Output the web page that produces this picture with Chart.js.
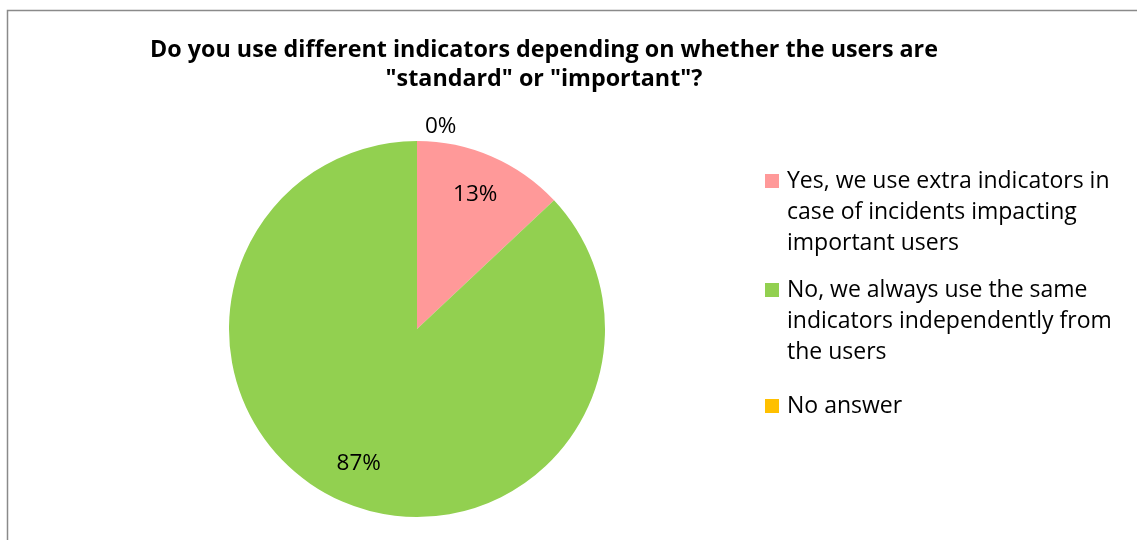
<!DOCTYPE html>
<html>
<head>
<meta charset="utf-8">
<script src="https://cdn.jsdelivr.net/npm/chart.js@4/dist/chart.umd.min.js"></script>
<style>
  html, body { margin: 0; padding: 0; background: #ffffff; }
  #wrap { width: 1137px; height: 540px; position: relative; }
</style>
</head>
<body>
<div id="wrap"><canvas id="pie"></canvas></div>
<script>
// Survey answers (share of respondents, %)
const titleLines = [
  'Do you use different indicators depending on whether the users are',
  '"standard" or "important"?'
];
const answerLabels = [
  ['Yes, we use extra indicators in', 'case of incidents impacting', 'important users'],
  ['No, we always use the same', 'indicators independently from', 'the users'],
  ['No answer']
];
const answerShares = [13, 87, 0];
const answerColors = ['#FF9999', '#92D050', '#FFC000'];

const FONT = '"Open Sans", Lato, sans-serif';

// Frame, title, value labels and legend drawn on the canvas
const decorations = {
  id: 'decorations',
  afterDraw(chart) {
    const ctx = chart.ctx;
    ctx.save();

    // chart frame (top and left edges)
    ctx.strokeStyle = '#8a8a8a';
    ctx.lineWidth = 1.5;
    ctx.beginPath();
    ctx.moveTo(7.5, 540);
    ctx.lineTo(7.5, 10.5);
    ctx.lineTo(1137, 10.5);
    ctx.stroke();

    // title
    ctx.fillStyle = '#000000';
    ctx.textAlign = 'center';
    ctx.textBaseline = 'alphabetic';
    ctx.font = 'bold 23.3px ' + FONT;
    titleLines.forEach((line, i) => ctx.fillText(line, 544, 57 + i * 29));

    // value labels
    const meta = chart.getDatasetMeta(0);
    ctx.font = '22.5px ' + FONT;
    ctx.textBaseline = 'middle';
    meta.data.forEach((arc, i) => {
      const v = answerShares[i];
      const mid = (arc.startAngle + arc.endAngle) / 2;
      const text = v + '%';
      if (v === 0) {
        const r = arc.outerRadius + 14;
        ctx.textAlign = 'left';
        ctx.fillText(text, arc.x + Math.cos(mid) * r + 8, arc.y + Math.sin(mid) * r);
      } else {
        const r = arc.outerRadius * 0.78;
        ctx.textAlign = 'center';
        ctx.fillText(text, arc.x + Math.cos(mid) * r, arc.y + Math.sin(mid) * r);
      }
    });

    // legend
    ctx.textAlign = 'left';
    ctx.textBaseline = 'alphabetic';
    ctx.font = '23px ' + FONT;
    const itemBaselines = [188, 297, 413];
    answerLabels.forEach((lines, i) => {
      const base = itemBaselines[i];
      ctx.fillStyle = answerColors[i];
      ctx.fillRect(765, base - 14, 14, 14);
      ctx.fillStyle = '#000000';
      lines.forEach((line, j) => ctx.fillText(line, 787, base + j * 31));
    });

    ctx.restore();
  }
};

new Chart(document.getElementById('pie'), {
  type: 'pie',
  data: {
    labels: answerLabels.map(l => l.join(' ')),
    datasets: [{
      data: answerShares,
      backgroundColor: answerColors,
      borderWidth: 0
    }]
  },
  options: {
    responsive: true,
    maintainAspectRatio: false,
    animation: false,
    layout: { padding: { left: 229, right: 532, top: 141, bottom: 23 } },
    plugins: {
      legend: { display: false },
      title: { display: false },
      tooltip: { enabled: false }
    }
  },
  plugins: [decorations]
});
</script>
</body>
</html>
